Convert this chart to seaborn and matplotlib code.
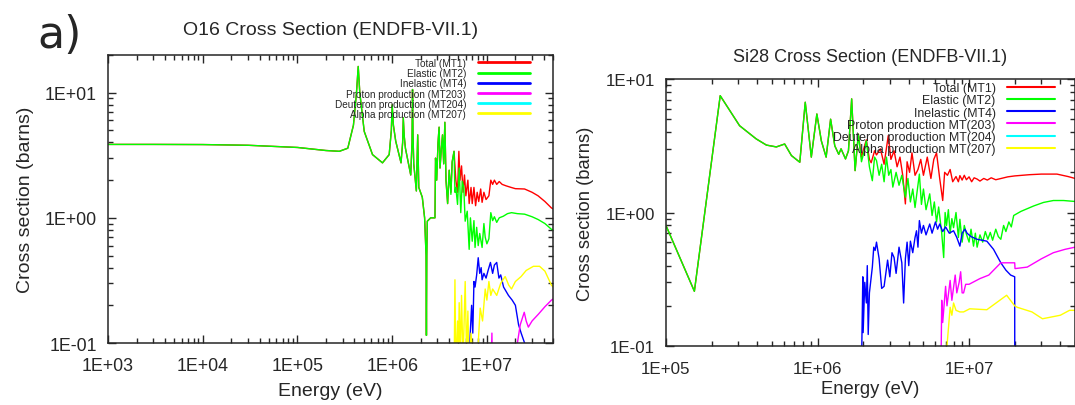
import pandas as pd
import matplotlib
matplotlib.use("Agg")
import matplotlib.pyplot as plt
from matplotlib.ticker import FuncFormatter
import seaborn as sns

sns.set_style("ticks")
plt.rcParams["font.family"] = ["Liberation Sans", "DejaVu Sans"]

# ---------------------------------------------------------------------------
# Data: (energy in eV, cross section in barns)
# ---------------------------------------------------------------------------
colors = ["#ff0000", "#00ff00", "#0000ff", "#ff00ff", "#00ffff", "#ffff00"]

o16_labels = ["Total (MT1)", "Elastic (MT2)", "Inelastic (MT4)",
              "Proton production (MT203)", "Deuteron production (MT204)",
              "Alpha production (MT207)"]
si28_labels = ["Total (MT1)", "Elastic (MT2)", "Inelastic (MT4)",
               "Proton production MT(203)", "Deuteron production MT(204)",
               "Alpha production MT(207)"]

# O16
o16_elastic = [
    (1e3, 3.86), (3e3, 3.86), (1e4, 3.85), (3e4, 3.80), (1e5, 3.65), (2e5, 3.45),
    (2.77e5, 3.40), (3.4e5, 3.6), (3.9e5, 5.5), (4.2e5, 10), (4.38e5, 16.2),
    (4.55e5, 10), (5.07e5, 4.9), (6.2e5, 3.2), (7.9e5, 2.75), (9.3e5, 3.2),
    (9.8e5, 5.0), (1.0e6, 8.0), (1.03e6, 5.5), (1.09e6, 4.1), (1.24e6, 2.75),
    (1.29e6, 4.0), (1.31e6, 6.3), (1.34e6, 4.5), (1.38e6, 3.6), (1.57e6, 2.2),
    (1.62e6, 4.0), (1.64e6, 10.6), (1.66e6, 4.5), (1.69e6, 2.7), (1.80e6, 1.64),
    (1.86e6, 4.6), (1.91e6, 1.75), (2.08e6, 1.46), (2.2e6, 1.0), (2.28e6, 0.5),
    (2.30e6, 0.115), (2.32e6, 0.5), (2.35e6, 0.94), (2.55e6, 1.0), (2.83e6, 1.0),
    (2.87e6, 3.0), (2.95e6, 2.0), (3.05e6, 4.0), (3.13e6, 5.3), (3.2e6, 2.5),
    (3.3e6, 3.5), (3.4e6, 4.6), (3.5e6, 2.7), (3.6e6, 5.8), (3.7e6, 2.0),
    (3.85e6, 1.3), (4.0e6, 2.4), (4.17e6, 1.54), (4.3e6, 2.8), (4.5e6, 3.4),
    (4.6e6, 1.6), (4.7e6, 1.75), (4.9e6, 1.28), (5.1e6, 2.5), (5.3e6, 1.1),
    (5.5e6, 1.96), (5.7e6, 1.75), (5.9e6, 0.94), (6.2e6, 1.13), (6.5e6, 0.56),
    (6.7e6, 1.0), (7.0e6, 0.65), (7.3e6, 0.95), (7.5e6, 0.58), (7.8e6, 0.84),
    (8.1e6, 0.6), (8.4e6, 0.75), (8.9e6, 0.58), (9.3e6, 0.9), (9.6e6, 0.7),
    (10.0e6, 0.62), (10.5e6, 0.68), (11.0e6, 1.1), (11.5e6, 0.95), (12.0e6, 1.02),
    (12.7e6, 0.92), (13.5e6, 1.0), (14.9e6, 1.03), (16.5e6, 1.08), (18.2e6, 1.1),
    (21e6, 1.08), (25e6, 1.07), (30e6, 1.02), (34.7e6, 0.97), (41e6, 0.9),
    (48e6, 0.81), (50e6, 0.80),
]
o16_total = [
    (1e3, 3.86), (3e3, 3.86), (1e4, 3.85), (3e4, 3.80), (1e5, 3.65), (2e5, 3.45),
    (2.77e5, 3.40), (3.4e5, 3.6), (3.9e5, 5.5), (4.2e5, 10), (4.38e5, 16.2),
    (4.55e5, 10), (5.07e5, 4.9), (6.2e5, 3.2), (7.9e5, 2.75), (9.3e5, 3.2),
    (9.8e5, 5.0), (1.0e6, 8.0), (1.03e6, 5.5), (1.09e6, 4.1), (1.24e6, 2.75),
    (1.29e6, 4.0), (1.31e6, 6.3), (1.34e6, 4.5), (1.38e6, 3.6), (1.57e6, 2.2),
    (1.62e6, 4.0), (1.64e6, 10.6), (1.66e6, 4.5), (1.69e6, 2.7), (1.80e6, 1.64),
    (1.86e6, 4.6), (1.91e6, 1.75), (2.08e6, 1.46), (2.2e6, 1.0), (2.28e6, 0.5),
    (2.30e6, 0.115), (2.32e6, 0.5), (2.35e6, 0.94), (2.55e6, 1.0), (2.83e6, 1.0),
    (2.87e6, 3.0), (2.95e6, 2.0), (3.05e6, 4.0), (3.13e6, 5.3), (3.2e6, 2.5),
    (3.3e6, 3.5), (3.4e6, 4.6), (3.5e6, 2.7), (3.6e6, 5.8), (3.7e6, 2.0),
    (3.85e6, 1.3), (4.0e6, 2.4), (4.17e6, 1.6), (4.3e6, 2.8), (4.5e6, 3.4),
    (4.7e6, 2.0), (4.9e6, 1.6), (5.06e6, 3.4), (5.2e6, 2.0), (5.4e6, 2.6),
    (5.6e6, 1.6), (5.8e6, 2.2), (6.0e6, 1.5), (6.3e6, 2.0), (6.5e6, 1.3),
    (6.8e6, 1.75), (7.0e6, 1.3), (7.3e6, 1.75), (7.6e6, 1.25), (7.9e6, 1.6),
    (8.2e6, 1.35), (8.6e6, 1.7), (8.9e6, 1.33), (9.3e6, 1.6), (9.8e6, 1.4),
    (10.5e6, 1.5), (11.0e6, 2.0), (11.5e6, 1.85), (12.0e6, 2.0), (12.7e6, 1.85),
    (13.5e6, 1.95), (14.5e6, 1.85), (16e6, 1.8), (18e6, 1.75), (20e6, 1.71),
    (25e6, 1.7), (30e6, 1.6), (34.7e6, 1.5), (41e6, 1.35), (48e6, 1.2), (50e6, 1.18),
]
o16_inelastic = [
    (6.4e6, 0.05), (6.6e6, 0.1), (6.9e6, 0.2), (7.1e6, 0.12), (7.3e6, 0.31),
    (7.5e6, 0.28), (7.8e6, 0.35), (8.1e6, 0.48), (8.4e6, 0.36), (8.7e6, 0.40),
    (8.9e6, 0.32), (9.3e6, 0.36), (9.8e6, 0.33), (10.3e6, 0.38), (10.9e6, 0.44),
    (11.5e6, 0.36), (12.0e6, 0.42), (12.7e6, 0.44), (13.4e6, 0.33), (14.0e6, 0.35),
    (15.0e6, 0.28), (16.9e6, 0.24), (18.5e6, 0.22), (20e6, 0.2), (21.6e6, 0.14),
    (23e6, 0.12), (25e6, 0.1), (27e6, 0.08), (35e6, 0.05), (50e6, 0.03),
]
o16_proton = [
    (10e6, 0.01), (11.0e6, 0.05), (11.3e6, 0.12), (11.5e6, 0.05), (15e6, 0.06),
    (20e6, 0.08), (21e6, 0.1), (22.5e6, 0.14), (24.8e6, 0.176), (26e6, 0.15),
    (27.4e6, 0.134), (30e6, 0.15), (35e6, 0.17), (41e6, 0.195), (48e6, 0.22),
    (50e6, 0.225),
]
o16_deuteron = [
    (10e6, 0.005), (15e6, 0.02), (20e6, 0.04), (30e6, 0.06), (50e6, 0.07),
]
o16_alpha = [
    (4.0e6, 0.03), (4.3e6, 0.08), (4.5e6, 0.05), (4.6e6, 0.32), (4.7e6, 0.06),
    (4.9e6, 0.15), (5.0e6, 0.07), (5.1e6, 0.21), (5.25e6, 0.08), (5.4e6, 0.24),
    (5.6e6, 0.07), (5.9e6, 0.31), (6.1e6, 0.08), (6.3e6, 0.18), (6.5e6, 0.06),
    (6.8e6, 0.12), (7.2e6, 0.07), (7.6e6, 0.09), (8.1e6, 0.10), (8.5e6, 0.19),
    (9.0e6, 0.15), (9.6e6, 0.27), (10.0e6, 0.22), (10.5e6, 0.31), (11.0e6, 0.24),
    (11.5e6, 0.27), (12.7e6, 0.24), (14e6, 0.30), (15.6e6, 0.34), (17e6, 0.29),
    (18.2e6, 0.27), (20e6, 0.31), (23e6, 0.34), (26e6, 0.38), (31e6, 0.41),
    (36e6, 0.41), (41e6, 0.375), (48e6, 0.29), (50e6, 0.28),
]

# Si28
si28_elastic = [
    (1e5, 0.80), (1.54e5, 0.257), (2.28e5, 7.5), (3.06e5, 4.47), (3.94e5, 3.56),
    (4.6e5, 3.2), (5.35e5, 3.1), (6.07e5, 3.26), (6.73e5, 2.67), (7.64e5, 2.38),
    (8.3e5, 6.7), (9.1e5, 2.6), (9.9e5, 5.47), (1.06e6, 3.44), (1.14e6, 2.6),
    (1.22e6, 5.0), (1.30e6, 3.16), (1.38e6, 2.73), (1.43e6, 3.0), (1.53e6, 2.52),
    (1.60e6, 2.9), (1.68e6, 7.1), (1.77e6, 2.06), (1.86e6, 3.87), (1.95e6, 2.4),
    (2.05e6, 3.0), (2.1e6, 3.44), (2.2e6, 2.2), (2.3e6, 1.73), (2.38e6, 2.6),
    (2.45e6, 2.45), (2.55e6, 1.9), (2.65e6, 2.3), (2.75e6, 1.7), (2.85e6, 2.6),
    (2.95e6, 1.9), (3.05e6, 2.1), (3.14e6, 1.55), (3.3e6, 2.0), (3.45e6, 1.6),
    (3.6e6, 1.9), (3.8e6, 1.3), (3.95e6, 1.8), (4.1e6, 1.2), (4.25e6, 1.5),
    (4.4e6, 1.09), (4.7e6, 1.94), (4.85e6, 1.15), (5.0e6, 1.5), (5.2e6, 1.05),
    (5.5e6, 1.38), (5.7e6, 0.95), (5.9e6, 1.2), (6.1e6, 0.85), (6.3e6, 1.1),
    (6.6e6, 0.7), (6.8e6, 0.46), (6.95e6, 1.0), (7.1e6, 0.8), (7.3e6, 1.05),
    (7.5e6, 0.7), (7.7e6, 0.9), (7.9e6, 0.77), (8.2e6, 1.0), (8.5e6, 0.65),
    (8.7e6, 0.89), (9.0e6, 0.6), (9.3e6, 0.8), (9.6e6, 0.69), (10.0e6, 0.6),
    (10.3e6, 0.75), (10.7e6, 0.56), (11.0e6, 0.7), (11.3e6, 0.55), (11.8e6, 0.68),
    (12.3e6, 0.6), (12.8e6, 0.72), (13.3e6, 0.63), (13.8e6, 0.71), (14.3e6, 0.62),
    (15e6, 0.75), (15.6e6, 0.66), (16.2e6, 0.63), (16.9e6, 0.8), (17.5e6, 0.72),
    (18.3e6, 0.85), (19e6, 0.78), (19.7e6, 0.95), (22e6, 1.02), (26.7e6, 1.12),
    (31e6, 1.19), (36e6, 1.23), (42e6, 1.23), (50e6, 1.21),
]
si28_total = [
    (1e5, 0.80), (1.54e5, 0.257), (2.28e5, 7.5), (3.06e5, 4.47), (3.94e5, 3.56),
    (4.6e5, 3.2), (5.35e5, 3.1), (6.07e5, 3.26), (6.73e5, 2.67), (7.64e5, 2.38),
    (8.3e5, 6.7), (9.1e5, 2.6), (9.9e5, 5.47), (1.06e6, 3.44), (1.14e6, 2.6),
    (1.22e6, 5.0), (1.30e6, 3.16), (1.38e6, 2.73), (1.43e6, 3.0), (1.53e6, 2.52),
    (1.60e6, 2.9), (1.68e6, 7.1), (1.77e6, 2.06), (1.86e6, 3.87), (1.95e6, 2.6),
    (2.05e6, 3.2), (2.1e6, 3.5), (2.2e6, 2.5), (2.26e6, 2.36), (2.38e6, 2.9),
    (2.45e6, 2.7), (2.6e6, 3.0), (2.75e6, 2.3), (2.93e6, 3.77), (3.05e6, 2.5),
    (3.2e6, 2.9), (3.35e6, 2.2), (3.5e6, 2.6), (3.65e6, 1.9), (3.8e6, 1.16),
    (3.9e6, 2.4), (4.05e6, 2.0), (4.2e6, 2.8), (4.4e6, 1.9), (4.6e6, 2.1),
    (4.8e6, 2.5), (5.0e6, 1.9), (5.3e6, 2.6), (5.6e6, 1.8), (5.85e6, 2.5),
    (6.1e6, 2.8), (6.4e6, 1.8), (6.7e6, 1.23), (6.9e6, 2.0), (7.2e6, 1.9),
    (7.5e6, 2.1), (7.8e6, 1.7), (8.2e6, 1.86), (8.5e6, 1.7), (8.7e6, 1.89),
    (9.0e6, 1.75), (9.3e6, 1.9), (9.6e6, 1.76), (10.0e6, 1.85), (10.4e6, 1.7),
    (10.8e6, 1.82), (11.3e6, 1.78), (11.8e6, 1.72), (12.5e6, 1.8), (13.2e6, 1.75),
    (14e6, 1.82), (15e6, 1.76), (16.3e6, 1.8), (18e6, 1.85), (20e6, 1.88),
    (25e6, 1.92), (30e6, 1.94), (38e6, 1.94), (45e6, 1.86), (50e6, 1.8),
]
si28_inelastic = [
    (1.779e6, 0.05), (1.96e6, 0.1), (1.99e6, 0.33), (2.0e6, 0.126), (2.05e6, 0.3),
    (2.1e6, 0.21), (2.13e6, 0.4), (2.16e6, 0.122), (2.2e6, 0.25), (2.3e6, 0.39),
    (2.35e6, 0.55), (2.4e6, 0.52), (2.45e6, 0.6), (2.55e6, 0.45), (2.65e6, 0.27),
    (2.75e6, 0.28), (2.9e6, 0.44), (3.0e6, 0.33), (3.1e6, 0.5), (3.2e6, 0.46),
    (3.3e6, 0.35), (3.45e6, 0.55), (3.6e6, 0.42), (3.7e6, 0.21), (3.8e6, 0.45),
    (3.9e6, 0.6), (4.0e6, 0.4), (4.1e6, 0.61), (4.25e6, 0.5), (4.4e6, 0.65),
    (4.5e6, 0.73), (4.6e6, 0.55), (4.7e6, 0.87), (4.85e6, 0.7), (5.0e6, 0.8),
    (5.2e6, 0.68), (5.5e6, 0.82), (5.7e6, 0.7), (6.0e6, 0.85), (6.2e6, 0.75),
    (6.4e6, 0.82), (6.7e6, 0.72), (7.0e6, 0.78), (7.4e6, 0.7), (7.9e6, 0.73),
    (8.3e6, 0.65), (8.7e6, 0.56), (9.0e6, 0.7), (9.4e6, 0.75), (9.7e6, 0.7),
    (10.3e6, 0.66), (11.3e6, 0.63), (13.1e6, 0.61), (14.5e6, 0.53), (16.2e6, 0.42),
    (17.5e6, 0.37), (18.8e6, 0.34), (20e6, 0.33), (20.05e6, 0.01),
]
si28_proton = [
    (6.4e6, 0.05), (6.55e6, 0.1), (6.6e6, 0.22), (6.7e6, 0.15), (7.0e6, 0.28),
    (7.15e6, 0.2), (7.5e6, 0.31), (7.7e6, 0.22), (8.1e6, 0.34), (8.3e6, 0.25),
    (8.6e6, 0.3), (8.8e6, 0.36), (9.0e6, 0.25), (9.2e6, 0.25), (9.5e6, 0.29),
    (10e6, 0.29), (11.8e6, 0.32), (13.5e6, 0.34), (16.2e6, 0.42), (19.7e6, 0.42),
    (20e6, 0.42), (20.1e6, 0.38), (24.2e6, 0.39), (30e6, 0.45), (36e6, 0.5),
    (43e6, 0.53), (50e6, 0.55),
]
si28_deuteron = [
    (8e6, 0.01), (20e6, 0.04), (50e6, 0.06),
]
si28_alpha = [
    (7.0e6, 0.05), (7.15e6, 0.1), (7.5e6, 0.195), (7.7e6, 0.17), (7.9e6, 0.21),
    (8.2e6, 0.185), (8.7e6, 0.18), (9.2e6, 0.18), (10.1e6, 0.19), (13.1e6, 0.187),
    (17.7e6, 0.24), (20e6, 0.2), (20.8e6, 0.195), (26e6, 0.18), (30.5e6, 0.16),
    (40e6, 0.17), (46e6, 0.185), (50e6, 0.185),
]


def to_frame(series, labels):
    parts = []
    for pts, lab in zip(series, labels):
        d = pd.DataFrame(pts, columns=["energy", "xs"])
        d["reaction"] = lab
        parts.append(d)
    return pd.concat(parts, ignore_index=True)


o16 = to_frame([o16_total, o16_elastic, o16_inelastic, o16_proton,
                o16_deuteron, o16_alpha], o16_labels)
si28 = to_frame([si28_total, si28_elastic, si28_inelastic, si28_proton,
                 si28_deuteron, si28_alpha], si28_labels)

sci = FuncFormatter(lambda v, _: f"{v:.0E}")


def draw(ax, df, labels, xlim, ylim, title, tfs, lfs, afs, legfs, leg):
    ax.set_xscale("log")
    ax.set_yscale("log")
    sns.lineplot(data=df, x="energy", y="xs", hue="reaction",
                 hue_order=labels, palette=colors, sort=False,
                 estimator=None, legend=False, linewidth=1.0, ax=ax)
    ax.set_xlim(*xlim)
    ax.set_ylim(*ylim)
    ax.xaxis.set_major_formatter(sci)
    ax.yaxis.set_major_formatter(sci)
    ax.tick_params(which="both", direction="in", top=True, right=True,
                   width=1.0, labelsize=lfs, pad=8)
    ax.tick_params(axis="x", which="both", pad=leg["xpad"])
    ax.tick_params(which="major", length=6)
    ax.tick_params(which="minor", length=3.5)
    for s in ax.spines.values():
        s.set_linewidth(1.1)
    ax.set_xlabel("Energy (eV)", fontsize=afs, labelpad=leg["xlp"])
    ax.set_ylabel("Cross section (barns)", fontsize=afs, labelpad=8)
    ax.set_title(title, fontsize=tfs, pad=leg["tpad"])

    handles = ax.get_lines()[:len(labels)]
    lg = ax.legend(handles, labels, loc="upper right",
                   bbox_to_anchor=leg["anchor"], frameon=False,
                   markerfirst=False, fontsize=legfs,
                   handlelength=leg["hl"], handletextpad=leg["pad"],
                   labelspacing=leg["ls"], borderpad=0, borderaxespad=0)
    for h in lg.legend_handles:
        h.set_linewidth(leg["lw"])


fig = plt.figure(figsize=(10.75, 4.06), dpi=100)
ax1 = fig.add_axes([0.1005, 0.1527, 0.414, 0.7094])
ax2 = fig.add_axes([0.6195, 0.1453, 0.3805, 0.6576])

draw(ax1, o16, o16_labels, (1e3, 5e7), (0.1, 20),
     "O16 Cross Section (ENDFB-VII.1)", 14, 12.8, 14, 7.2,
     dict(anchor=(1 - 23 / 445, 1 - 3 / 288), hl=5.2, pad=1.2, ls=0.02,
          lw=2.0, tpad=15, xpad=10, xlp=6))
draw(ax2, si28, si28_labels, (1e5, 5e7), (0.1, 10),
     "Si28 Cross Section (ENDFB-VII.1)", 13, 12.2, 13.2, 8.9,
     dict(anchor=(1 - 20 / 409, 1 - 3 / 267), hl=3.9, pad=0.9, ls=0.02,
          lw=1.5, tpad=13, xpad=11, xlp=3))

fig.text(60 / 1075, 1 - 35 / 406, "a)", fontsize=32, ha="center",
         va="center", family="DejaVu Sans")

fig.savefig("out.png", dpi=100)
